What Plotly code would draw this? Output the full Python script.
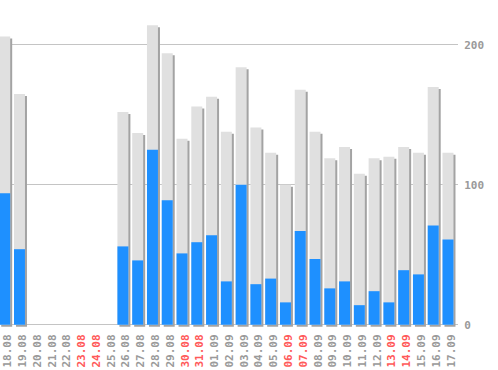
import plotly.graph_objects as go

dates = ["18.08", "19.08", "20.08", "21.08", "22.08", "23.08", "24.08", "25.08",
         "26.08", "27.08", "28.08", "29.08", "30.08", "31.08", "01.09", "02.09",
         "03.09", "04.09", "05.09", "06.09", "07.09", "08.09", "09.09", "10.09",
         "11.09", "12.09", "13.09", "14.09", "15.09", "16.09", "17.09"]
weekend = ["23.08", "24.08", "30.08", "31.08", "06.09", "07.09", "13.09", "14.09"]
totals = [206, 165, 0, 0, 0, 0, 0, 0, 152, 137, 214, 194, 133, 156, 163, 138,
          184, 141, 123, 100, 168, 138, 119, 127, 108, 119, 120, 127, 123, 170, 123]
blues = [94, 54, 0, 0, 0, 0, 0, 0, 56, 46, 125, 89, 51, 59, 64, 31,
         100, 29, 33, 16, 67, 47, 26, 31, 14, 24, 16, 39, 36, 71, 61]
y_ticks = [0, 100, 200]

GREY_TXT = "#9a9a9a"
RED_TXT = "#ff5a5a"
FONT = "DejaVu Sans Mono"

idx = list(range(len(dates)))
ticktext = [
    f'<span style="color:{RED_TXT}">{d}</span>' if d in weekend else d
    for d in dates
]

BW = 0.744      # bar width (category units)
OFF = -0.575    # bars sit slightly left of the label position
SX = 0.135      # shadow shift right
SY = 1.43       # shadow shift down

fig = go.Figure()
fig.add_trace(go.Bar(x=idx, y=totals, base=-SY, width=BW, offset=OFF + SX,
                     marker=dict(color="#a3a3a3", line=dict(width=0)),
                     hoverinfo="skip"))
fig.add_trace(go.Bar(x=idx, y=totals, width=BW, offset=OFF,
                     marker=dict(color="#e0e0e0", line=dict(width=0)),
                     hoverinfo="skip"))
fig.add_trace(go.Bar(x=idx, y=blues, width=BW, offset=OFF,
                     marker=dict(color="#1e90ff", line=dict(width=0)),
                     hoverinfo="skip"))

fig.update_layout(
    width=498, height=370,
    margin=dict(l=0, r=40, t=0, b=43, pad=0, autoexpand=False),
    paper_bgcolor="white", plot_bgcolor="white",
    barmode="overlay", showlegend=False,
    font=dict(family=FONT, size=11, color=GREY_TXT),
)
fig.update_xaxes(
    range=[-0.521, 30.474], tickmode="array", tickvals=idx, ticktext=ticktext,
    tickangle=-90, showgrid=False, zeroline=False, showline=False, automargin=False,
    ticks="outside", ticklen=2, tickcolor="rgba(0,0,0,0)",
    tickfont=dict(family=FONT, size=11, color=GREY_TXT, weight="bold"),
)
fig.update_yaxes(
    range=[-1.6, 232.1], side="right", tickmode="array", tickvals=y_ticks,
    showgrid=True, gridcolor="#c4c4c4", gridwidth=1, zeroline=False, showline=False,
    automargin=False,
    ticks="outside", ticklen=3, tickcolor="rgba(0,0,0,0)",
    tickfont=dict(family=FONT, size=11, color=GREY_TXT, weight="bold"),
)

fig.write_html(
    "out.html",
    config={"displayModeBar": False},
    post_script="document.body.style.margin='0';document.body.style.overflow='hidden';",
)
